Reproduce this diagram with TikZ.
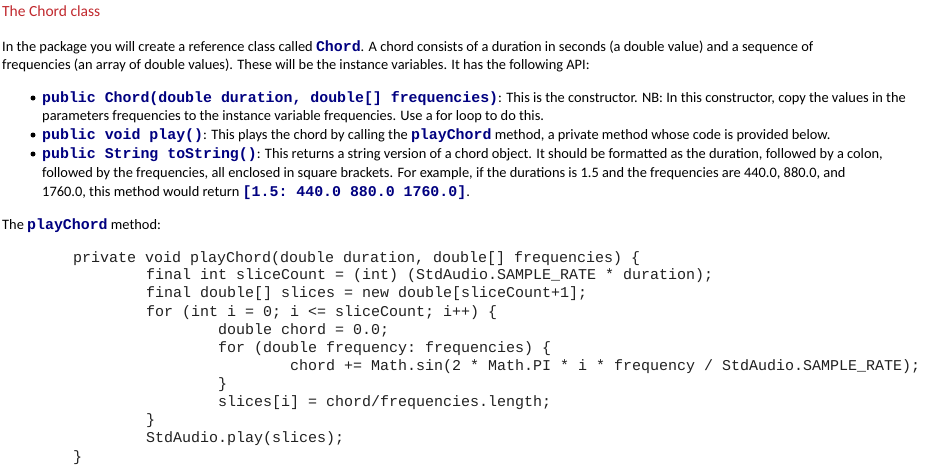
\documentclass[tikz,border=0pt]{standalone}
\usepackage{fontspec}
\setmainfont{Carlito}
\setmonofont{Liberation Mono}
\definecolor{ttl}{HTML}{C0282D}
\definecolor{kw}{HTML}{000080}
\definecolor{cd}{HTML}{202020}
\newcommand{\kwd}[1]{{\ttfamily\bfseries\color{kw}\fontsize{14.9}{16}\selectfont#1}}
\begin{document}
\begin{tikzpicture}[x=1pt,y=-1pt,
  txt/.style={anchor=base west,inner sep=0,font=\fontsize{14.4}{16}\selectfont},
  code/.style={anchor=base west,inner sep=0,font=\ttfamily\fontsize{15}{16}\selectfont,text=cd},
  dot/.style={circle,fill=black,inner sep=0,minimum size=5pt}]
\useasboundingbox (0,0) rectangle (934,469);
\node[txt,text=ttl,font=\fontsize{15.5}{17}\selectfont] (title) at (2,16) {The Chord class};
\node[txt] (p1) at (2,51) {In the package you will create a reference class called \kwd{Chord}. A chord consists of a duration in seconds (a double value) and a sequence of};
\node[txt] (p2) at (2,69) {frequencies (an array of double values). These will be the instance variables. It has the following API:};
\node[dot] (d1) at (33,98) {};
\node[txt] (b1) at (42,102) {\kwd{public Chord(double duration, double[] frequencies)}: This is the constructor. NB: In this constructor, copy the values in the};
\node[txt] (b1b) at (42,120) {parameters frequencies to the instance variable frequencies. Use a for loop to do this.};
\node[dot] (d2) at (33,135) {};
\node[txt] (b2) at (42,139) {\kwd{public void play()}: This plays the chord by calling the \kwd{playChord} method, a private method whose code is provided below.};
\node[dot] (d3) at (33,154) {};
\node[txt] (b3) at (42,158) {\kwd{public String toString()}: This returns a string version of a chord object. It should be formatted as the duration, followed by a colon,};
\node[txt] (b3b) at (42,177) {followed by the frequencies, all enclosed in square brackets. For example, if the durations is 1.5 and the frequencies are 440.0, 880.0, and};
\node[txt] (b3c) at (42,196) {1760.0, this method would return \kwd{[1.5: 440.0 880.0 1760.0]}.};
\node[txt] (pc) at (2,229) {The \kwd{playChord} method:};
\node[code] (c1) at (73,262) {private void playChord(double duration, double[] frequencies) \{};
\node[code] (c2) at (146,279) {final int sliceCount = (int) (StdAudio.SAMPLE\_RATE * duration);};
\node[code] (c3) at (146,297) {final double[] slices = new double[sliceCount+1];};
\node[code] (c4) at (146,316) {for (int i = 0; i <= sliceCount; i++) \{};
\node[code] (c5) at (218,334) {double chord = 0.0;};
\node[code] (c6) at (218,352) {for (double frequency: frequencies) \{};
\node[code] (c7) at (290,370) {chord += Math.sin(2 * Math.PI * i * frequency / StdAudio.SAMPLE\_RATE);};
\node[code] (c8) at (218,388) {\}};
\node[code] (c9) at (218,406) {slices[i] = chord/frequencies.length;};
\node[code] (c10) at (146,424) {\}};
\node[code] (c11) at (146,442) {StdAudio.play(slices);};
\node[code] (c12) at (73,461) {\}};
\end{tikzpicture}
\end{document}
